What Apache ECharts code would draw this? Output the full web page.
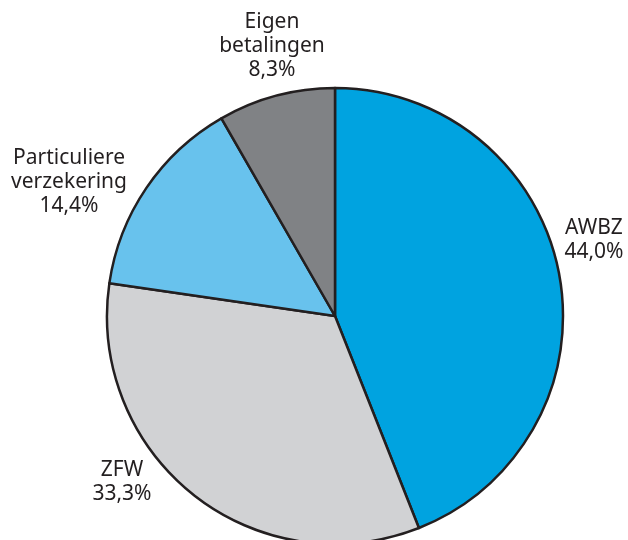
<!DOCTYPE html>
<html><head><meta charset="utf-8">
<script src="https://cdn.jsdelivr.net/npm/echarts@6/dist/echarts.min.js"></script>
<style>html,body{margin:0;padding:0;background:#fff}#c{width:628px;height:540px}</style>
</head><body><div id="c"></div>
<script>
const categories = ['AWBZ', 'ZFW', 'Particuliere\nverzekering', 'Eigen\nbetalingen'];
const values = [44.0, 33.3, 14.4, 8.3];
const valueLabels = ['44,0%', '33,3%', '14,4%', '8,3%'];
const colors = ['#00a3e0', '#d1d2d4', '#68c2ed', '#808285'];
// label anchor positions (centre of text block)
const labelPos = [[594, 240], [122, 482], [69, 182], [272, 46]];

const chart = echarts.init(document.getElementById('c'));
chart.setOption({
  animation: false,
  series: [{
    type: 'pie',
    center: [335, 316],
    radius: 228,
    startAngle: 90,
    clockwise: true,
    data: categories.map((c, i) => ({
      name: c, value: values[i],
      itemStyle: { color: colors[i] }
    })),
    itemStyle: { borderColor: '#231f20', borderWidth: 2.5 },
    label: {
      show: true,
      position: 'outside',
      formatter: p => p.name + '\n' + valueLabels[p.dataIndex],
      fontFamily: 'Noto Sans, Liberation Sans, sans-serif',
      fontSize: 21,
      lineHeight: 24,
      color: '#231f20',
      align: 'center',
      overflow: 'none',
      width: 200
    },
    labelLine: { show: false },
    labelLayout: p => ({
      x: labelPos[p.dataIndex][0],
      y: labelPos[p.dataIndex][1],
      align: 'center',
      verticalAlign: 'middle'
    }),
    emphasis: { disabled: true }
  }]
});
</script></body></html>
